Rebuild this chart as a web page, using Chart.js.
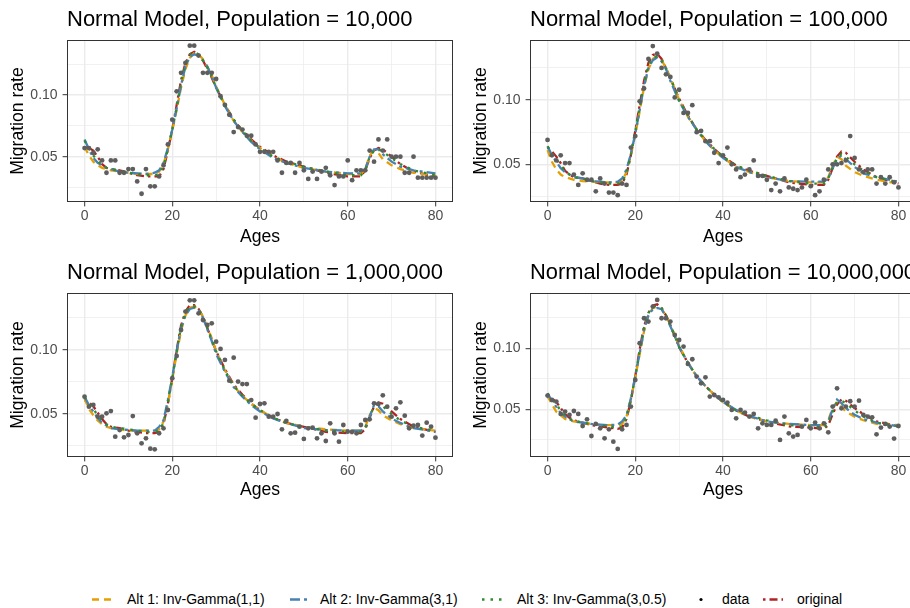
<!DOCTYPE html>
<html>
<head>
<meta charset="utf-8">
<script src="https://cdn.jsdelivr.net/npm/chart.js@4.4.0/dist/chart.umd.min.js"></script>
<style>
html,body{margin:0;padding:0;background:#fff;width:910px;height:608px;overflow:hidden;position:relative;font-family:"Liberation Sans",Arial,Helvetica,sans-serif;}
canvas.pane{position:absolute;}
#legend{position:absolute;left:0;top:590px;width:910px;height:20px;}
.lk{position:absolute;top:0;}
.lt{position:absolute;top:0;font-size:14px;line-height:19px;color:#000;white-space:nowrap;}
</style>
</head>
<body>
<div id="legend"></div>
<script>
// ---------- data ----------
const ages = [0,1,2,3,4,5,6,7,8,9,10,11,12,13,14,15,16,17,18,19,20,21,22,23,24,25,26,27,28,29,30,31,32,33,34,35,36,37,38,39,40,41,42,43,44,45,46,47,48,49,50,51,52,53,54,55,56,57,58,59,60,61,62,63,64,65,66,67,68,69,70,71,72,73,74,75,76,77,78,79,80];
const curveAges = [0,1,2,3,4,5,6,8,10,12,14,16,17,18,19,20,21,22,23,24,25,26,27,28,29,30,32,34,36,38,40,43,46,50,55,60,63,64,65,66,67,68,70,72,75,80];

const xTickVals = [0,10,20,30,40,50,60,70,80];
const xTickLabels = ['0','','20','','40','','60','','80'];
const yTickVals = [0.025,0.05,0.075,0.10,0.125];
const yTickLabels = ['','0.05','','0.10',''];

const panelTitles = ['Normal Model, Population = 10,000','Normal Model, Population = 100,000','Normal Model, Population = 1,000,000','Normal Model, Population = 10,000,000'];
const seriesNames = ['Alt 1: Inv-Gamma(1,1)','Alt 2: Inv-Gamma(3,1)','Alt 3: Inv-Gamma(3,0.5)','data','original'];

const yRange10k = [0.0133, 0.1446];
const yRange100k = [0.0207, 0.1467];
const yRange1m = [0.0164, 0.1445];
const yRange10m = [0.0109, 0.1453];

// Population 10,000
const data10k = [0.057,0.057,0.053,0.056,0.047,0.037,0.047,0.047,0.037,0.037,
 0.040,0.040,0.030,0.020,0.040,0.026,0.026,0.034,0.043,0.060,
 0.080,0.103,0.118,0.126,0.140,0.140,0.132,0.118,0.118,0.118,
 0.113,0.099,0.092,0.084,0.070,0.074,0.072,0.067,0.067,0.060,
 0.054,0.054,0.054,0.054,0.047,0.037,0.045,0.045,0.037,0.045,
 0.039,0.032,0.038,0.032,0.038,0.041,0.035,0.027,0.034,0.034,
 0.047,0.031,0.039,0.039,0.039,0.055,0.046,0.064,0.055,0.064,
 0.050,0.050,0.050,0.037,0.037,0.050,0.033,0.033,0.033,0.033,
 0.033];
const alt1_10k = [0.058,0.051,0.046,0.043,0.041,0.040,0.039,0.038,0.037,0.036,0.036,0.036,0.038,0.044,0.056,0.071,0.088,0.106,0.121,0.130,0.134,0.133,0.129,0.123,0.116,0.107,0.092,0.079,0.070,0.063,0.057,0.050,0.045,0.041,0.038,0.036,0.036,0.040,0.051,0.055,0.053,0.048,0.043,0.040,0.037,0.035];
const alt2_10k = [0.064,0.056,0.049,0.045,0.043,0.041,0.040,0.038,0.037,0.0365,0.036,0.037,0.039,0.045,0.057,0.072,0.089,0.108,0.123,0.131,0.133,0.132,0.128,0.123,0.115,0.106,0.091,0.079,0.070,0.062,0.056,0.049,0.045,0.041,0.038,0.0365,0.0365,0.040,0.050,0.056,0.056,0.052,0.046,0.042,0.039,0.0365];
const alt3_10k = [0.063,0.057,0.051,0.047,0.043,0.041,0.040,0.039,0.037,0.036,0.035,0.035,0.036,0.042,0.056,0.072,0.090,0.110,0.125,0.133,0.135,0.133,0.128,0.122,0.115,0.106,0.092,0.080,0.071,0.063,0.057,0.050,0.046,0.042,0.038,0.035,0.035,0.039,0.050,0.055,0.056,0.054,0.049,0.044,0.039,0.035];
const orig_10k = [0.058,0.057,0.055,0.050,0.044,0.041,0.040,0.039,0.037,0.035,0.034,0.034,0.034,0.040,0.055,0.072,0.092,0.112,0.126,0.133,0.135,0.133,0.128,0.121,0.114,0.106,0.092,0.080,0.071,0.064,0.058,0.051,0.046,0.042,0.037,0.034,0.034,0.039,0.049,0.055,0.057,0.056,0.050,0.044,0.038,0.034];

// Population 100,000
const data100k = [0.069,0.057,0.053,0.057,0.051,0.051,0.042,0.034,0.043,0.038,
 0.038,0.029,0.039,0.035,0.028,0.028,0.026,0.035,0.034,0.063,
 0.072,0.099,0.109,0.132,0.142,0.136,0.125,0.120,0.118,0.102,
 0.108,0.090,0.090,0.096,0.075,0.076,0.068,0.068,0.059,0.051,
 0.057,0.063,0.050,0.046,0.040,0.042,0.046,0.053,0.041,0.041,
 0.038,0.030,0.035,0.029,0.039,0.032,0.031,0.030,0.032,0.038,
 0.033,0.026,0.029,0.038,0.046,0.050,0.050,0.051,0.053,0.072,
 0.055,0.046,0.044,0.046,0.046,0.035,0.040,0.035,0.040,0.036,
 0.032];
const alt1_100k = [0.061,0.052,0.046,0.042,0.040,0.039,0.038,0.037,0.0365,0.036,0.036,0.036,0.037,0.044,0.057,0.073,0.091,0.110,0.124,0.132,0.134,0.131,0.125,0.117,0.109,0.100,0.087,0.077,0.068,0.061,0.055,0.048,0.044,0.040,0.037,0.036,0.036,0.040,0.049,0.056,0.054,0.049,0.044,0.041,0.038,0.035];
const alt2_100k = [0.064,0.057,0.052,0.047,0.044,0.042,0.040,0.039,0.037,0.0365,0.036,0.0365,0.039,0.046,0.058,0.074,0.092,0.111,0.125,0.131,0.133,0.130,0.124,0.115,0.107,0.099,0.087,0.077,0.068,0.061,0.055,0.048,0.044,0.040,0.037,0.0365,0.0365,0.039,0.047,0.054,0.057,0.054,0.048,0.043,0.040,0.0365];
const alt3_100k = [0.064,0.059,0.054,0.049,0.045,0.042,0.040,0.039,0.037,0.036,0.035,0.035,0.036,0.043,0.058,0.076,0.095,0.113,0.127,0.133,0.134,0.131,0.125,0.117,0.109,0.100,0.088,0.077,0.069,0.062,0.056,0.049,0.045,0.041,0.037,0.035,0.035,0.039,0.048,0.055,0.058,0.056,0.050,0.045,0.040,0.036];
const orig_100k = [0.063,0.060,0.056,0.051,0.045,0.042,0.040,0.039,0.037,0.035,0.034,0.034,0.035,0.042,0.057,0.076,0.096,0.115,0.129,0.135,0.136,0.132,0.125,0.117,0.109,0.101,0.088,0.077,0.069,0.062,0.056,0.049,0.045,0.041,0.036,0.034,0.034,0.038,0.047,0.056,0.060,0.059,0.052,0.046,0.040,0.035];

// Population 1,000,000
const data1m = [0.0635,0.0557,0.057,0.0479,0.0479,0.0505,0.0523,0.0323,0.0375,0.0318,
 0.0336,0.0484,0.0349,0.0271,0.031,0.0229,0.0224,0.0349,0.0388,0.0531,
 0.0779,0.0953,0.1156,0.130,0.1388,0.1388,0.1286,0.1234,0.1195,0.1208,
 0.1065,0.1008,0.0922,0.076,0.094,0.0753,0.0734,0.0734,0.0609,0.0471,
 0.0578,0.0583,0.0479,0.0479,0.050,0.038,0.0445,0.0349,0.0354,0.0401,
 0.0305,0.0388,0.0393,0.031,0.0349,0.0289,0.0427,0.0349,0.0284,0.0414,
 0.0362,0.0362,0.0349,0.0414,0.0453,0.0458,0.0583,0.0578,0.0646,0.0557,
 0.0479,0.0544,0.0591,0.0487,0.0388,0.0409,0.0414,0.0331,0.0432,0.0401,
 0.0315];
const alt1_1m = [0.062,0.054,0.049,0.045,0.042,0.040,0.039,0.038,0.037,0.037,0.037,0.037,0.038,0.044,0.058,0.077,0.097,0.115,0.127,0.133,0.134,0.132,0.126,0.118,0.109,0.099,0.084,0.072,0.064,0.058,0.053,0.047,0.043,0.040,0.038,0.037,0.037,0.040,0.049,0.055,0.053,0.049,0.045,0.042,0.039,0.037];
const alt2_1m = [0.0635,0.057,0.052,0.047,0.043,0.041,0.039,0.038,0.0375,0.037,0.037,0.037,0.040,0.045,0.061,0.079,0.099,0.117,0.127,0.132,0.133,0.131,0.125,0.116,0.107,0.097,0.083,0.071,0.0635,0.057,0.052,0.0465,0.043,0.039,0.0375,0.037,0.037,0.039,0.048,0.057,0.056,0.052,0.0465,0.043,0.039,0.036];
const alt3_1m = [0.063,0.058,0.054,0.049,0.045,0.042,0.040,0.039,0.038,0.037,0.036,0.036,0.037,0.043,0.059,0.078,0.099,0.118,0.129,0.134,0.134,0.132,0.126,0.117,0.108,0.099,0.084,0.072,0.064,0.058,0.053,0.047,0.043,0.040,0.037,0.036,0.036,0.039,0.048,0.056,0.058,0.056,0.050,0.045,0.040,0.037];
const orig_1m = [0.061,0.059,0.056,0.051,0.046,0.042,0.040,0.039,0.037,0.036,0.035,0.035,0.036,0.042,0.058,0.078,0.100,0.119,0.130,0.135,0.135,0.132,0.126,0.117,0.108,0.099,0.085,0.073,0.065,0.058,0.053,0.047,0.043,0.040,0.036,0.035,0.035,0.038,0.047,0.056,0.059,0.058,0.052,0.046,0.040,0.036];

// Population 10,000,000
const data10m = [0.0612,0.0577,0.0563,0.0462,0.0481,0.0454,0.0486,0.0462,0.0363,0.0418,
 0.0281,0.038,0.0344,0.0262,0.0336,0.0235,0.0175,0.0336,0.0372,0.0522,
 0.074,0.1041,0.1246,0.1219,0.1342,0.1396,0.1246,0.1246,0.1219,0.1109,
 0.1068,0.1014,0.0872,0.091,0.0768,0.0713,0.0762,0.0604,0.0617,0.0598,
 0.0577,0.0555,0.0495,0.0426,0.0495,0.0473,0.044,0.0462,0.0344,0.0385,
 0.0372,0.0372,0.0407,0.0249,0.044,0.0303,0.0276,0.029,0.0358,0.0413,
 0.0344,0.0391,0.0344,0.0385,0.0311,0.0522,0.0672,0.0508,0.0522,0.0566,
 0.0522,0.0571,0.0454,0.044,0.0434,0.0295,0.035,0.038,0.0358,0.026,
 0.0363];
const alt1_10m = [0.061,0.054,0.048,0.045,0.042,0.041,0.040,0.039,0.038,0.037,0.037,0.037,0.038,0.044,0.058,0.076,0.095,0.114,0.127,0.133,0.134,0.132,0.127,0.119,0.111,0.102,0.088,0.077,0.069,0.062,0.056,0.049,0.044,0.040,0.038,0.037,0.037,0.041,0.051,0.056,0.052,0.048,0.044,0.041,0.038,0.037];
const alt2_10m = [0.063,0.057,0.052,0.047,0.044,0.042,0.040,0.039,0.038,0.0375,0.037,0.0375,0.040,0.045,0.059,0.077,0.096,0.115,0.127,0.132,0.133,0.132,0.126,0.118,0.110,0.101,0.088,0.077,0.069,0.062,0.056,0.0495,0.0445,0.040,0.038,0.037,0.037,0.040,0.050,0.058,0.055,0.051,0.0455,0.042,0.039,0.036];
const alt3_10m = [0.063,0.058,0.054,0.049,0.045,0.042,0.041,0.039,0.038,0.037,0.036,0.035,0.036,0.043,0.058,0.077,0.098,0.117,0.129,0.134,0.135,0.133,0.127,0.119,0.110,0.101,0.088,0.077,0.069,0.062,0.056,0.049,0.045,0.041,0.037,0.036,0.035,0.038,0.048,0.056,0.057,0.055,0.049,0.044,0.039,0.036];
const orig_10m = [0.060,0.059,0.056,0.051,0.046,0.043,0.041,0.039,0.037,0.036,0.035,0.034,0.035,0.042,0.057,0.077,0.099,0.118,0.129,0.135,0.136,0.133,0.127,0.119,0.110,0.101,0.088,0.077,0.069,0.062,0.056,0.049,0.044,0.040,0.036,0.035,0.034,0.037,0.046,0.054,0.058,0.057,0.051,0.046,0.040,0.036];

// ---------- styling ----------
const FONT = '"Liberation Sans", Arial, Helvetica, sans-serif';
Chart.defaults.font.family = FONT;
const COL = {alt1:'#E69F00', alt2:'#4682B4', alt3:'#2E8B2E', data:'#5E5E5E', orig:'#B22222'};
const DASH = {alt1:[7,5], alt2:[10,4,3,4], alt3:[2.5,6], orig:[2.5,4,8,4]};
const LW = 2.3;

const borderPlugin = {
  id:'panelBorder',
  afterDraw(chart){
    const {ctx, chartArea:a} = chart;
    ctx.save();
    ctx.strokeStyle = '#333333';
    ctx.lineWidth = 1;
    ctx.strokeRect(a.left+0.5, a.top+0.5, a.right-a.left-1, a.bottom-a.top-1);
    ctx.restore();
  }
};

function isIn(vals, v){ return vals.some(t => Math.abs(t - v) < 1e-9); }
function labelFor(vals, labels, v){ const i = vals.findIndex(t => Math.abs(t - v) < 1e-9); return i >= 0 ? labels[i] : ''; }
function pts(xs, ys){ return xs.map((x,i)=>({x:x, y:ys[i]})); }

function makePanel(p){
  const cv = document.createElement('canvas');
  cv.className = 'pane';
  cv.width = 460; cv.height = p.h;
  cv.style.left = p.left + 'px'; cv.style.top = p.top + 'px';
  cv.style.width = '460px'; cv.style.height = p.h + 'px';
  document.body.appendChild(cv);
  const lineDs = (label, ys, key, order) => ({
    label: label, data: pts(curveAges, ys), showLine: true, borderColor: COL[key],
    backgroundColor: COL[key], borderDash: DASH[key], borderWidth: LW, pointRadius: 0,
    pointHoverRadius: 0, fill: false, tension: 0, order: order
  });
  const xMajor = xTickVals.filter((v,i)=>xTickLabels[i] !== '');
  const yMajor = yTickVals.filter((v,i)=>yTickLabels[i] !== '');
  new Chart(cv, {
    type: 'scatter',
    data: { datasets: [
      {label: seriesNames[3], data: pts(ages, p.data), showLine: false, pointRadius: 2.4, pointBackgroundColor: COL.data, pointBorderWidth: 0, order: 0},
      lineDs(seriesNames[0], p.alt1, 'alt1', 3),
      lineDs(seriesNames[1], p.alt2, 'alt2', 2),
      lineDs(seriesNames[2], p.alt3, 'alt3', 1),
      lineDs(seriesNames[4], p.orig, 'orig', 4)
    ]},
    options: {
      responsive: false, animation: false, devicePixelRatio: 1,
      events: [],
      layout: {padding: {left: 0, right: 7, top: 0, bottom: 0}},
      plugins: {
        legend: {display: false},
        tooltip: {enabled: false},
        title: {display: true, text: p.title, align: 'start', fullSize: false, color: '#000',
                font: {size: 22, weight: 'normal', lineHeight: 1.2}, padding: {top: 6.6, bottom: 7.0}}
      },
      scales: {
        x: {
          type: 'linear', min: -4, max: 84,
          afterBuildTicks: s => { s.ticks = xTickVals.map(v => ({value: v})); },
          afterFit: s => { s.height = p.xh; },
          ticks: {autoSkip: false, maxRotation: 0, minRotation: 0, padding: 1, color: '#4D4D4D', font: {size: 14},
                  callback: v => labelFor(xTickVals, xTickLabels, v)},
          grid: {color: '#EBEBEB', lineWidth: c => (c.tick && isIn(xMajor, c.tick.value)) ? 1.4 : 0.7,
                 tickColor: c => (c.tick && isIn(xMajor, c.tick.value)) ? '#333333' : 'rgba(0,0,0,0)',
                 tickLength: 4.4, tickWidth: 1},
          border: {display: false},
          title: {display: true, text: 'Ages', color: '#000', font: {size: 17.6}, padding: {top: 0, bottom: 4.4}}
        },
        y: {
          type: 'linear', min: p.yr[0], max: p.yr[1],
          afterBuildTicks: s => { s.ticks = yTickVals.map(v => ({value: v})); },
          afterFit: s => { s.width = 67; },
          ticks: {autoSkip: false, padding: 5, color: '#4D4D4D', font: {size: 14},
                  callback: v => labelFor(yTickVals, yTickLabels, v)},
          grid: {color: '#EBEBEB', lineWidth: c => (c.tick && isIn(yMajor, c.tick.value)) ? 1.4 : 0.7,
                 tickColor: c => (c.tick && isIn(yMajor, c.tick.value)) ? '#333333' : 'rgba(0,0,0,0)',
                 tickLength: 4.4, tickWidth: 1},
          border: {display: false},
          title: {display: true, text: 'Migration rate', color: '#000', font: {size: 17.6}, padding: {top: 7.7, bottom: 0}}
        }
      }
    },
    plugins: [borderPlugin]
  });
}

makePanel({title: panelTitles[0], data: data10k, alt1: alt1_10k, alt2: alt2_10k, alt3: alt3_10k, orig: orig_10k, yr: yRange10k, left: 0, top: 0, h: 252, xh: 50});
makePanel({title: panelTitles[1], data: data100k, alt1: alt1_100k, alt2: alt2_100k, alt3: alt3_100k, orig: orig_100k, yr: yRange100k, left: 463, top: 0, h: 252, xh: 50});
makePanel({title: panelTitles[2], data: data1m, alt1: alt1_1m, alt2: alt2_1m, alt3: alt3_1m, orig: orig_1m, yr: yRange1m, left: 0, top: 253, h: 252, xh: 48});
makePanel({title: panelTitles[3], data: data10m, alt1: alt1_10m, alt2: alt2_10m, alt3: alt3_10m, orig: orig_10m, yr: yRange10m, left: 463, top: 253, h: 252, xh: 48});

// ---------- legend ----------
const legendItems = [
  {name: seriesNames[0], key: 'alt1', kx: 91, tx: 127},
  {name: seriesNames[1], key: 'alt2', kx: 289, tx: 320},
  {name: seriesNames[2], key: 'alt3', kx: 481, tx: 517},
  {name: seriesNames[3], key: 'data', kx: 690, tx: 722},
  {name: seriesNames[4], key: 'orig', kx: 762, tx: 797}
];
const lg = document.getElementById('legend');
legendItems.forEach(it => {
  let svg;
  if (it.key === 'data') {
    svg = '<svg class="lk" style="left:'+it.kx+'px" width="22" height="19"><circle cx="11" cy="9.5" r="1.6" fill="#000"/></svg>';
  } else {
    svg = '<svg class="lk" style="left:'+it.kx+'px" width="22" height="19"><line x1="1" y1="9.5" x2="21" y2="9.5" stroke="'+COL[it.key]+'" stroke-width="'+LW+'" stroke-dasharray="'+DASH[it.key].join(' ')+'"/></svg>';
  }
  lg.insertAdjacentHTML('beforeend', svg + '<div class="lt" style="left:'+it.tx+'px">'+it.name+'</div>');
});
</script>
</body>
</html>
